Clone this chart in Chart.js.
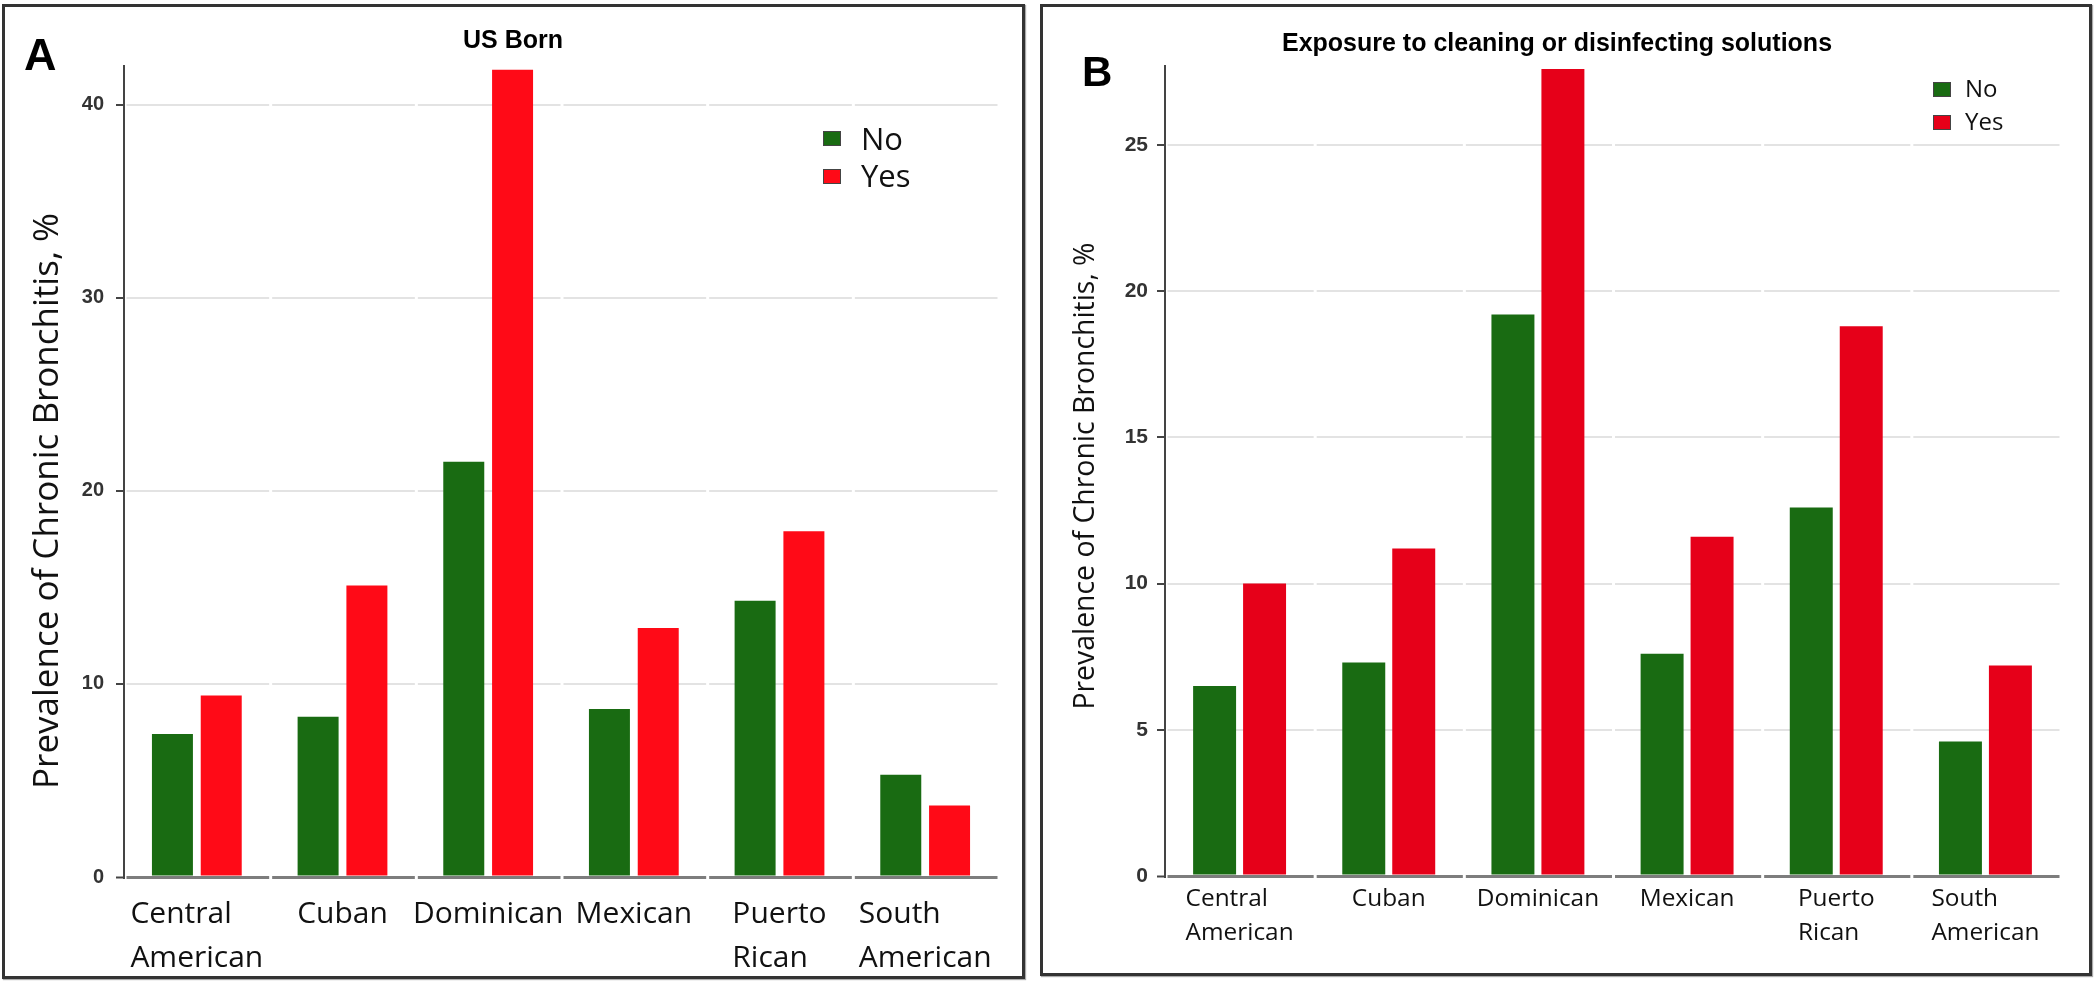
<!DOCTYPE html>
<html>
<head>
<meta charset="utf-8">
<script src="https://cdn.jsdelivr.net/npm/chart.js@4.4.1/dist/chart.umd.min.js"></script>
<style>
  body { margin:0; width:2100px; height:982px; background:#fff; position:relative; overflow:hidden; }
  .panel { position:absolute; box-sizing:border-box; border:3px solid #333; box-shadow:1px 1px 1px #aaa; }
  canvas { position:absolute; }
  .letter, .ttl { position:absolute; font-family:"Liberation Sans", Arial, sans-serif; font-weight:bold; line-height:1; color:#000; white-space:nowrap; }
  .ttl { text-align:center; }
  .ytitle { position:absolute; text-align:center; white-space:nowrap; transform:rotate(-90deg); font-family:"Open Sans", sans-serif; color:#111; }
  .leg { position:absolute; font-family:"Open Sans", sans-serif; line-height:1; color:#111; white-space:nowrap; }
  .sw { position:absolute; box-sizing:border-box; border:1px solid #444; }
</style>
</head>
<body>
<div class="panel" style="left:2px;top:4px;width:1023px;height:975px;"></div>
<div class="panel" style="left:1040px;top:4px;width:1052px;height:972px;"></div>

<canvas id="chartA" width="1030" height="982" style="left:0;top:0;"></canvas>
<canvas id="chartB" width="1055" height="982" style="left:1040px;top:0;"></canvas>

<div class="letter" style="left:24px;top:32px;font-size:45px;">A</div>
<div class="letter" style="left:1082px;top:51px;font-size:42px;">B</div>
<div class="ttl" id="titleA" style="left:313px;top:27px;width:400px;font-size:25px;"></div>
<div class="ttl" id="titleB" style="left:1257px;top:30px;width:600px;font-size:25px;"></div>
<div class="ytitle" id="yTitleA" style="left:-305px;top:476px;width:700px;height:50px;line-height:50px;font-size:35px;"></div>
<div class="ytitle" id="yTitleB" style="left:733px;top:451px;width:700px;height:50px;line-height:50px;font-size:28.4px;"></div>
<div id="legendA"></div>
<div id="legendB"></div>

<script>
// ---- data ----
const categories = [['Central','American'], ['Cuban'], ['Dominican'], ['Mexican'], ['Puerto','Rican'], ['South','American']];
const seriesLabels = ['No', 'Yes'];
const usBornNo  = [7.4, 8.3, 21.5, 8.7, 14.3, 5.3];
const usBornYes = [9.4, 15.1, 41.8, 12.9, 17.9, 3.7];
const cleaningNo  = [6.5, 7.3, 19.2, 7.6, 12.6, 4.6];
const cleaningYes = [10.0, 11.2, 27.6, 11.6, 18.8, 7.2];
const titleA = 'US Born';
const titleB = 'Exposure to cleaning or disinfecting solutions';
const yAxisTitle = 'Prevalence of Chronic Bronchitis, %';

const GREEN = '#196b12';
const RED_A = '#ff0a17';
const RED_B = '#e60019';

document.getElementById('titleA').textContent = titleA;
document.getElementById('titleB').textContent = titleB;
document.getElementById('yTitleA').textContent = yAxisTitle;
document.getElementById('yTitleB').textContent = yAxisTitle;

function makeLegend(id, red, sw, txt) {
  const host = document.getElementById(id);
  const colors = [GREEN, red];
  seriesLabels.forEach((lab, i) => {
    const s = document.createElement('div');
    s.className = 'sw';
    s.style.cssText = `left:${sw.x}px;top:${sw.y + i*sw.dy}px;width:${sw.w}px;height:${sw.h}px;background:${colors[i]};`;
    host.appendChild(s);
    const t = document.createElement('div');
    t.className = 'leg';
    t.textContent = lab;
    t.style.cssText += `left:${txt.x}px;top:${txt.y + i*sw.dy}px;font-size:${txt.size}px;`;
    host.appendChild(t);
  });
}
makeLegend('legendA', RED_A, {x:823, y:131, dy:37.5, w:18, h:15}, {x:861, y:122.5, size:31});
makeLegend('legendB', RED_B, {x:1933, y:82, dy:33, w:18, h:15}, {x:1965, y:75.7, size:24});

const measureCtx = document.createElement('canvas').getContext('2d');
function blockHalfWidth(lines, size) {
  measureCtx.font = `${size}px "Open Sans"`;
  return Math.max(...lines.map(l => measureCtx.measureText(l).width)) / 2;
}

// multi-line category labels: lines left-aligned, block centred under the category
const leftAlignLabels = {
  id: 'leftAlignLabels',
  beforeDraw(chart, args, opts) {
    const items = chart.scales.x.getLabelItems();
    items.forEach(it => {
      if (it._shifted) return;
      const lines = Array.isArray(it.label) ? it.label : [it.label];
      it.options.translation[0] -= blockHalfWidth(lines, opts.size);
      it._shifted = true;
    });
  }
};

function makeChart(id, noVals, yesVals, red, cfg) {
  const catW = (cfg.right - cfg.left) / categories.length;
  return new Chart(document.getElementById(id), {
    type: 'bar',
    plugins: [leftAlignLabels],
    data: {
      labels: categories,
      datasets: [
        { label: seriesLabels[0], data: noVals, backgroundColor: GREEN, categoryPercentage: cfg.catPct, barPercentage: cfg.barPct },
        { label: seriesLabels[1], data: yesVals, backgroundColor: red, categoryPercentage: cfg.catPct, barPercentage: cfg.barPct }
      ]
    },
    options: {
      responsive: false,
      animation: false,
      events: [],
      devicePixelRatio: 1,
      layout: { padding: { top: cfg.top, right: cfg.canvasW - cfg.right, bottom: 0, left: 0 } },
      plugins: {
        legend: { display: false }, title: { display: false }, tooltip: { enabled: false },
        leftAlignLabels: { size: cfg.xFont }
      },
      scales: {
        x: {
          grid: { display: false, drawTicks: false },
          border: { display: false },
          ticks: {
            font: { family: 'Open Sans', size: cfg.xFont, lineHeight: cfg.xLH },
            color: '#111', padding: cfg.xPad, maxRotation: 0, minRotation: 0, autoSkip: false,
            align: 'start'
          },
          afterFit: s => { s.height = cfg.canvasH - cfg.bottom; s.paddingLeft = 0; s.paddingRight = 0; }
        },
        y: {
          min: 0, max: cfg.max,
          ticks: {
            stepSize: cfg.step, includeBounds: false,
            font: { family: 'Liberation Sans', weight: 'bold', size: cfg.yFont },
            color: '#333', padding: cfg.yPad
          },
          grid: {
            color: c => (c.tick && c.tick.value === 0) ? '#7d7d7d' : '#e3e3e3',
            lineWidth: c => (c.tick && c.tick.value === 0) ? 3 : 2,
            tickColor: '#444', tickLength: 8, tickWidth: 2, drawTicks: true
          },
          border: { display: true, color: '#444', width: 2, dash: [catW - 3, 3], dashOffset: -1.5 },
          afterFit: s => { s.width = cfg.left; }
        }
      }
    }
  });
}

makeChart('chartA', usBornNo, usBornYes, RED_A, {
  canvasW: 1030, canvasH: 982, left: 124, right: 998, top: 66, bottom: 877,
  max: 42, step: 10, catPct: 0.67, barPct: 0.84,
  xFont: 30, xLH: 1.467, xPad: 15, yFont: 20, yPad: 12
});
makeChart('chartB', cleaningNo, cleaningYes, RED_B, {
  canvasW: 1055, canvasH: 982, left: 125, right: 1020, top: 66, bottom: 876,
  max: 27.7, step: 5, catPct: 0.67, barPct: 0.86,
  xFont: 24.4, xLH: 1.393, xPad: 6, yFont: 21, yPad: 9
});
</script>
</body>
</html>
